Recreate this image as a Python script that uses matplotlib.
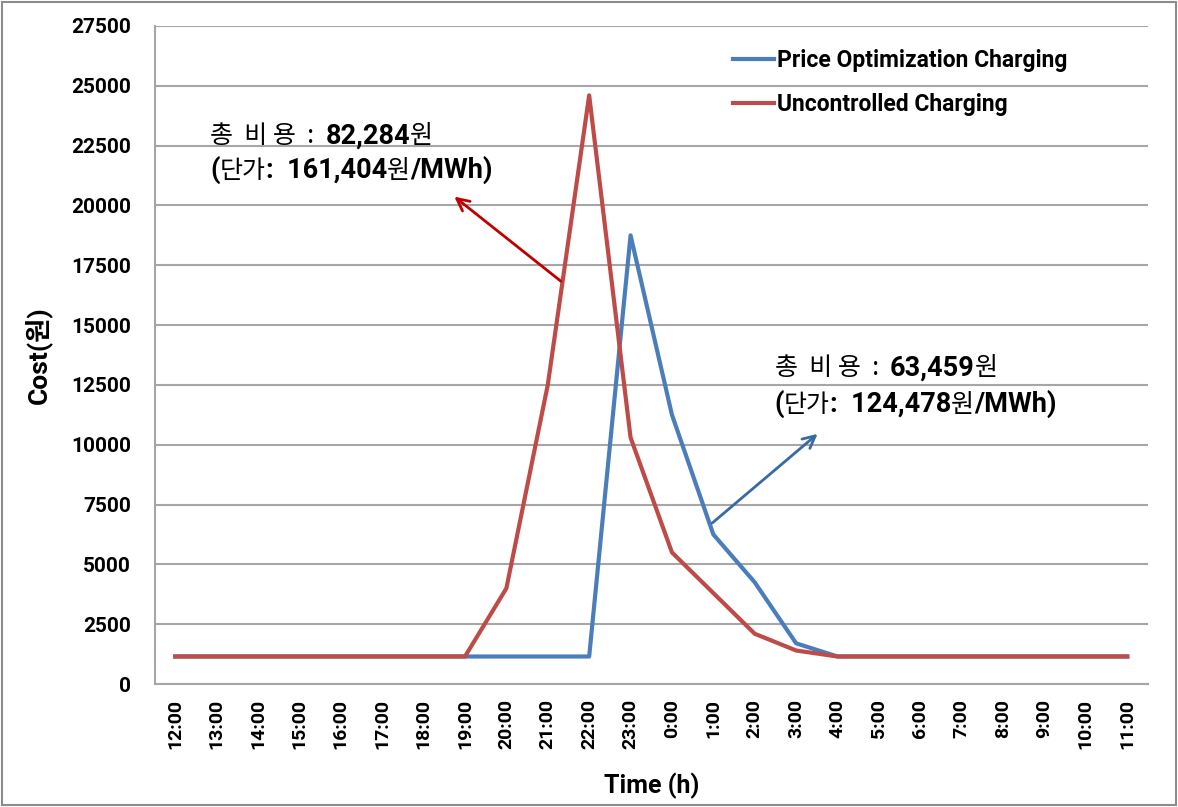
import matplotlib
matplotlib.use("Agg")
import matplotlib.pyplot as plt
from matplotlib.patches import Rectangle

# data
hours = ["12:00", "13:00", "14:00", "15:00", "16:00", "17:00", "18:00", "19:00",
         "20:00", "21:00", "22:00", "23:00", "0:00", "1:00", "2:00", "3:00",
         "4:00", "5:00", "6:00", "7:00", "8:00", "9:00", "10:00", "11:00"]
price_opt = [1150, 1150, 1150, 1150, 1150, 1150, 1150, 1150,
             1150, 1150, 1150, 18750, 11250, 6250, 4250, 1700,
             1150, 1150, 1150, 1150, 1150, 1150, 1150, 1150]
uncontrolled = [1150, 1150, 1150, 1150, 1150, 1150, 1150, 1150,
                4000, 12500, 24600, 10300, 5500, 3800, 2100, 1400,
                1150, 1150, 1150, 1150, 1150, 1150, 1150, 1150]
yticks = list(range(0, 27501, 2500))

red_note = [[("총  비 용  :  ", False), ("82,284", True), ("원", False)],
            [("(", True), ("단가", False), (":  161,404", True), ("원", False), ("/MWh)", True)]]
blue_note = [[("총  비 용  :  ", False), ("63,459", True), ("원", False)],
             [("(", True), ("단가", False), (":  124,478", True), ("원", False), ("/MWh)", True)]]

BOLD_FAM = ['Roboto', 'DejaVu Sans']
KR_FAM = ['Noto Sans CJK KR', 'DejaVu Sans']
LBL_FAM = ['Roboto', 'Noto Sans CJK KR', 'DejaVu Sans']

fig = plt.figure(figsize=(11.78, 8.07), dpi=100)
ax = fig.add_axes([0.1312, 0.1524, 0.9745 - 0.1312, 0.9678 - 0.1524])

x = list(range(len(hours)))
ax.plot(x, price_opt, color='#4a7ebb', lw=3, label='Price Optimization Charging', zorder=3)
ax.plot(x, uncontrolled, color='#be4b48', lw=3, label='Uncontrolled Charging', zorder=3)

ax.set_xlim(-0.5, len(hours) - 0.5)
ax.set_ylim(0, 27500)
ax.set_yticks(yticks)
ax.set_xticks(x)
ax.set_xticklabels(hours, rotation=90)
ax.yaxis.grid(True, color='#a6a6a6', lw=1.5)
ax.set_axisbelow(True)
for s in ['top', 'right']:
    ax.spines[s].set_visible(False)
for s in ['left', 'bottom']:
    ax.spines[s].set_color('#a6a6a6')
    ax.spines[s].set_linewidth(1.5)
ax.tick_params(axis='y', length=0, pad=17)
ax.tick_params(axis='x', length=0, pad=11)
for t in ax.get_yticklabels():
    t.set_fontfamily(LBL_FAM)
    t.set_fontweight('bold')
    t.set_fontsize(15)
for t in ax.get_xticklabels():
    t.set_fontfamily(LBL_FAM)
    t.set_fontweight('bold')
    t.set_fontsize(14)

ax.set_ylabel('Cost(원)', fontfamily=LBL_FAM, fontweight='bold', fontsize=19, labelpad=14)
ax.set_xlabel('Time (h)', fontfamily=BOLD_FAM, fontweight='bold', fontsize=18, labelpad=17)

leg = ax.legend(loc='upper left', bbox_to_anchor=(712 / 1178, 1 - 28 / 807),
                bbox_transform=fig.transFigure, frameon=False,
                handlelength=1.8, handletextpad=0.15, labelspacing=0.95,
                prop={'family': LBL_FAM, 'weight': 'bold', 'size': 16.5})

renderer = fig.canvas.get_renderer()


def write_note(lines, x0, ys, size=19.5):
    for segs, y in zip(lines, ys):
        xx = x0
        for txt, bold in segs:
            if bold:
                t = ax.text(xx, y, txt, fontfamily=BOLD_FAM, fontweight='bold',
                            fontsize=size, va='baseline', ha='left')
            else:
                t = ax.text(xx, y, txt, fontfamily=KR_FAM, fontsize=size - 1.5,
                            va='baseline', ha='left')
            bb = t.get_window_extent(renderer)
            xx = ax.transData.inverted().transform((bb.x1, bb.y0))[0]


write_note(red_note, 0.84, [22600, 21150])
write_note(blue_note, 14.48, [12900, 11380])

ax.annotate('', xy=(6.69, 20440), xytext=(9.37, 16760),
            arrowprops=dict(arrowstyle='->', color='#c00000', lw=2, mutation_scale=22))
ax.annotate('', xy=(15.57, 10530), xytext=(12.92, 6650),
            arrowprops=dict(arrowstyle='->', color='#386aa3', lw=2, mutation_scale=22))

fig.add_artist(Rectangle((0.002, 0.002), 0.996, 0.996, transform=fig.transFigure,
                         fill=False, edgecolor='#8c8c8c', lw=1.5))

fig.savefig('out.png', dpi=100)
